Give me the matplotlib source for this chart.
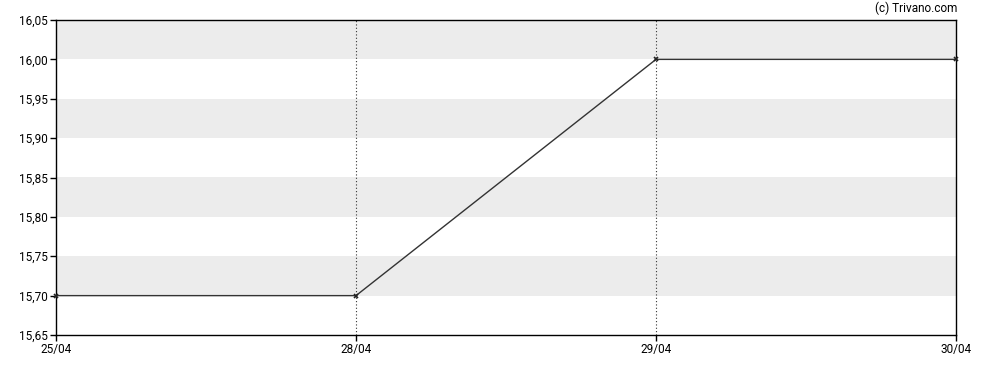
import matplotlib.pyplot as plt
import numpy as np

plt.rcParams['font.family'] = ['Roboto', 'DejaVu Sans']

dates = ['25/04', '28/04', '29/04', '30/04']
prices = [15.70, 15.70, 16.00, 16.00]
yticks = [15.65, 15.70, 15.75, 15.80, 15.85, 15.90, 15.95, 16.00, 16.05]

fig = plt.figure(figsize=(9.88, 3.70), dpi=100)
ax = fig.add_axes([56/988, 1-335/370, 900/988, 315/370])

x = np.arange(len(dates))

# alternating gray bands
for lo in [15.70, 15.80, 15.90, 16.00]:
    ax.axhspan(lo, lo + 0.05, color='#ececec', lw=0, zorder=0)

for xi in x[1:-1]:
    ax.axvline(xi, color='#333333', lw=0.8, ls=(0, (1, 2)), zorder=1)

ax.plot(x, prices, color='#333333', lw=1, zorder=3)
ax.plot(x, prices, ls='none', marker='x', ms=3.5, mew=1.2, color='#222222', zorder=4, clip_on=False)

ax.set_xlim(0, 3)
ax.set_ylim(15.65, 16.05)
ax.set_xticks(x)
ax.set_xticklabels(dates)
ax.set_yticks(yticks)
ax.set_yticklabels([f'{v:.2f}'.replace('.', ',') for v in yticks])
ax.tick_params(labelsize=8.5, length=4, width=1, colors='black', pad=2)
for s in ax.spines.values():
    s.set_color('black')
    s.set_linewidth(1)

fig.text(957/988, 1-8/370, '(c) Trivano.com', ha='right', va='center', fontsize=8.5)

plt.savefig('out.png')
